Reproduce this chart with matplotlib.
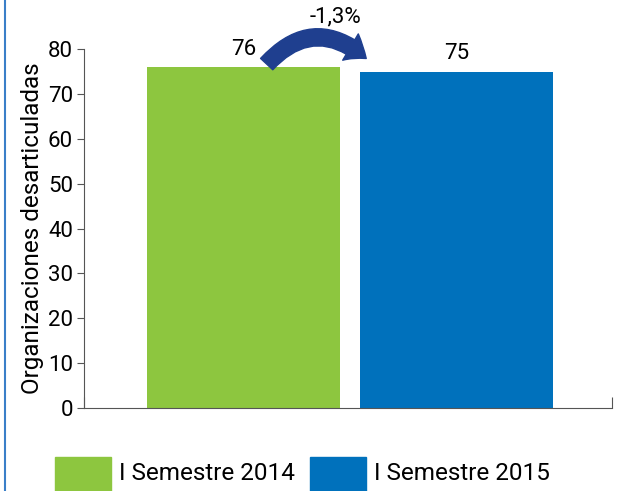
import matplotlib
matplotlib.use("Agg")
import matplotlib.pyplot as plt
from matplotlib.patches import FancyArrowPatch, Rectangle
from matplotlib.lines import Line2D

plt.rcParams['font.family'] = ['Roboto', 'DejaVu Sans']

# data
periods = ["I Semestre 2014", "I Semestre 2015"]
values = [76, 75]
colors = ["#8dc63f", "#0071bc"]
change_label = "-1,3%"
y_label = "Organizaciones desarticuladas"
y_ticks = [0, 10, 20, 30, 40, 50, 60, 70, 80]

fig = plt.figure(figsize=(6.24, 4.91), dpi=100)
ax = fig.add_axes([0.1346, 0.169, 0.846, 0.731])

x = list(range(len(values)))
ax.bar(x, values, width=0.904, color=colors)
for xi, v in zip(x, values):
    ax.text(xi, v + 1.6, str(v), ha="center", va="bottom", fontsize=16)

ax.set_xlim(-0.747, 1.726)
ax.set_ylim(0, 80)
ax.set_yticks(y_ticks)
ax.tick_params(axis="y", labelsize=16, length=5, color="#555555", direction="out", pad=3)
ax.set_xticks([-0.747, 1.726])
ax.set_xticklabels([])
ax.tick_params(axis="x", direction="in", length=8, color="#555555")
ax.set_ylabel(y_label, fontsize=17.5, labelpad=3)
for side in ["top", "right"]:
    ax.spines[side].set_visible(False)
for side in ["left", "bottom"]:
    ax.spines[side].set_color("#555555")

# curved change arrow
arrow = FancyArrowPatch((0.10, 76.2), (0.585, 77.5),
                        connectionstyle="arc3,rad=-0.5",
                        arrowstyle="simple,head_width=22,head_length=14,tail_width=12",
                        color="#1f3f8f", clip_on=False, mutation_scale=1)
ax.add_patch(arrow)
ax.text(0.43, 87.2, change_label, ha="center", va="center", fontsize=16)

# legend at bottom
leg_x = [0.088, 0.497]
for lx, c, lab in zip(leg_x, colors, periods):
    fig.patches.append(Rectangle((lx, -0.01), 0.09, 0.08, transform=fig.transFigure,
                                 color=c, figure=fig))
    fig.text(lx + 0.103, 0.035, lab, fontsize=17.5, va="center", ha="left")

# left border
fig.lines.append(Line2D([0.008, 0.008], [0, 1], transform=fig.transFigure,
                        color="#3a7fc8", lw=1.5))

fig.savefig("out.png", dpi=100)
